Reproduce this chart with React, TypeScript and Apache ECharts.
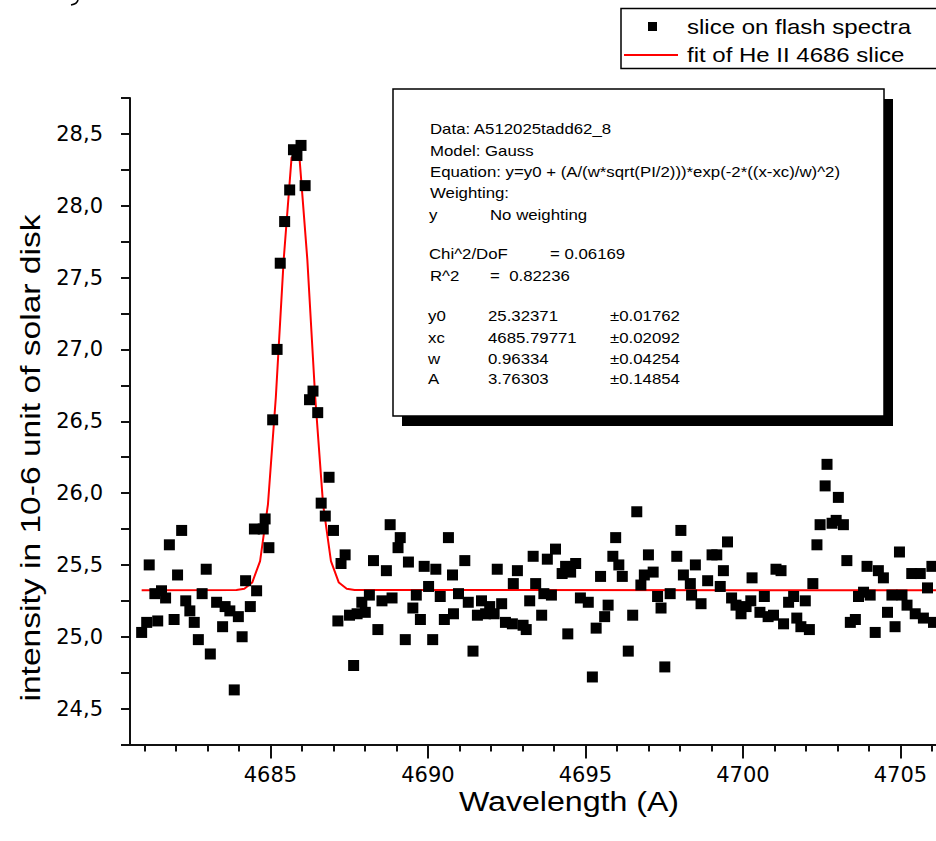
import React, { useEffect, useRef } from "react";
import * as echarts from "echarts";

// Measured data: "slice on flash spectra"
const sliceWavelength = [
  4680.91, 4681.07, 4681.15, 4681.33, 4681.42, 4681.54, 4681.67, 4681.79, 4681.94, 4682.05,
  4682.18, 4682.31, 4682.44, 4682.58, 4682.71, 4682.83, 4682.96, 4683.09, 4683.29, 4683.48,
  4683.56, 4683.71, 4683.85, 4683.98, 4684.10, 4684.21, 4684.36, 4684.49, 4684.56, 4684.77,
  4684.83, 4684.95, 4685.07, 4685.21, 4685.31, 4685.45, 4685.61, 4685.73, 4685.84, 4685.97,
  4686.10, 4686.24, 4686.35, 4686.50, 4686.61, 4686.74, 4686.86, 4687.00, 4687.14, 4687.24,
  4687.37, 4687.51, 4687.64, 4687.75, 4687.90, 4688.01, 4688.14, 4688.27, 4688.41, 4688.54,
  4688.68, 4688.80, 4688.86, 4689.05, 4689.12, 4689.28, 4689.38, 4689.52, 4689.63, 4689.76,
  4689.88, 4690.02, 4690.15, 4690.25, 4690.39, 4690.52, 4690.65, 4690.78, 4690.81, 4690.97,
  4691.17, 4691.28, 4691.43, 4691.57, 4691.70, 4691.83, 4691.96, 4692.10, 4692.20, 4692.34,
  4692.46, 4692.68, 4692.71, 4692.84, 4693.02, 4693.12, 4693.23, 4693.34, 4693.42, 4693.61,
  4693.68, 4693.79, 4693.92, 4694.05, 4694.26, 4694.37, 4694.44, 4694.53, 4694.69, 4694.84,
  4695.09, 4695.22, 4695.34, 4695.48, 4695.61, 4695.72, 4695.87, 4695.96, 4696.06, 4696.17,
  4696.36, 4696.50, 4696.63, 4696.76, 4696.87, 4697.00, 4697.15, 4697.29, 4697.40, 4697.52,
  4697.69, 4697.90, 4698.03, 4698.11, 4698.33, 4698.37, 4698.49, 4698.67, 4698.88, 4699.02,
  4699.17, 4699.28, 4699.38, 4699.51, 4699.64, 4699.78, 4699.94, 4700.10, 4700.25, 4700.29,
  4700.54, 4700.68, 4700.80, 4700.97, 4701.05, 4701.21, 4701.29, 4701.45, 4701.61, 4701.71,
  4701.84, 4701.98, 4702.11, 4702.22, 4702.35, 4702.45, 4702.61, 4702.67, 4702.83, 4702.96,
  4703.03, 4703.19, 4703.30, 4703.41, 4703.57, 4703.67, 4703.83, 4703.94, 4704.04, 4704.20,
  4704.30, 4704.46, 4704.59, 4704.73, 4704.83, 4704.97, 4705.05, 4705.21, 4705.36, 4705.47,
  4705.63, 4705.73, 4705.86, 4706.00, 4706.05,
];
const sliceIntensity = [
  25.03, 25.10, 25.50, 25.30, 25.11, 25.32, 25.27, 25.64, 25.12, 25.43,
  25.74, 25.25, 25.18, 25.10, 24.98, 25.30, 25.47, 24.88, 25.24, 25.07,
  25.21, 25.18, 24.63, 25.14, 25.00, 25.39, 25.21, 25.75, 25.32, 25.75,
  25.82, 25.62, 26.51, 27.00, 27.60, 27.89, 28.11, 28.39, 28.35, 28.42,
  28.14, 26.65, 26.71, 26.56, 25.93, 25.84, 26.11, 25.74, 25.11, 25.51,
  25.57, 25.15, 24.80, 25.16, 25.24, 25.17, 25.29, 25.53, 25.05, 25.25,
  25.46, 25.78, 25.27, 25.62, 25.69, 24.98, 25.52, 25.20, 25.29, 25.12,
  25.49, 25.35, 24.98, 25.47, 25.28, 25.12, 25.69, 25.43, 25.16, 25.30,
  25.53, 25.24, 24.90, 25.15, 25.25, 25.16, 25.21, 25.16, 25.47, 25.23,
  25.10, 25.09, 25.37, 25.46, 25.08, 25.05, 25.25, 25.56, 25.37, 25.15,
  25.30, 25.54, 25.29, 25.61, 25.44, 25.49, 25.02, 25.45, 25.51, 25.27,
  25.24, 24.72, 25.06, 25.42, 25.14, 25.22, 25.56, 25.69, 25.50, 25.42,
  24.90, 25.15, 25.87, 25.36, 25.43, 25.57, 25.45, 25.28, 25.20, 24.79,
  25.30, 25.56, 25.74, 25.43, 25.37, 25.29, 25.50, 25.23, 25.39, 25.57,
  25.57, 25.35, 25.46, 25.66, 25.27, 25.22, 25.16, 25.21, 25.25, 25.41,
  25.17, 25.28, 25.14, 25.15, 25.47, 25.46, 25.09, 25.24, 25.28, 25.13,
  25.07, 25.25, 25.05, 25.37, 25.64, 25.78, 26.05, 26.20, 25.79, 25.81,
  25.97, 25.78, 25.53, 25.10, 25.12, 25.28, 25.31, 25.49, 25.29, 25.03,
  25.46, 25.41, 25.17, 25.29, 25.07, 25.59, 25.29, 25.22, 25.44, 25.16,
  25.44, 25.13, 25.34, 25.49, 25.10,
];

// Fit curve "fit of He II 4686 slice"
const fitWavelength = [
  4680.91, 4683.92, 4684.17, 4684.42, 4684.67, 4684.92, 4685.17, 4685.42, 4685.67,
  4685.92, 4686.17, 4686.42, 4686.67, 4686.92, 4687.17, 4687.42, 4687.67, 4706.2,
];
const fitIntensity = [
  25.324, 25.325, 25.334, 25.377, 25.527, 25.922, 26.667, 27.626, 28.337,
  28.337, 27.626, 26.667, 25.922, 25.527, 25.377, 25.334, 25.325, 25.324,
];

// Axis ticks
const xMinorTicks = [
  4681, 4682, 4683, 4684, 4686, 4687, 4688, 4689, 4691, 4692, 4693,
  4694, 4696, 4697, 4698, 4699, 4701, 4702, 4703, 4704, 4706,
];
const xMajorTicks = [4685, 4690, 4695, 4700, 4705];
const yTicks = [
  24.25, 24.5, 24.75, 25.0, 25.25, 25.5, 25.75, 26.0, 26.25, 26.5, 26.75,
  27.0, 27.25, 27.5, 27.75, 28.0, 28.25, 28.5, 28.75,
];
const yLabels = [24.5, 25.0, 25.5, 26.0, 26.5, 27.0, 27.5, 28.0, 28.5];

// Fit report text
const reportHead = [
  "Data: A512025tadd62_8",
  "Model: Gauss",
  "Equation: y=y0 + (A/(w*sqrt(PI/2)))*exp(-2*((x-xc)/w)^2)",
  "Weighting:",
];
const paramNames = ["y0", "xc", "w", "A"];
const paramValues = ["25.32371", "4685.79771", "0.96334", "3.76303"];
const paramErrors = ["\u00b10.01762", "\u00b10.02092", "\u00b10.04254", "\u00b10.14854"];

const FONT = '"Liberation Sans", Arial, sans-serif';

function txt(text: string, x: number, y: number, size: number, sx: number, extra: any = {}) {
  return {
    type: "text",
    x,
    y,
    scaleX: sx,
    silent: true,
    z: 100,
    style: {
      text,
      font: `${size}px ${FONT}`,
      fill: "#000",
      textAlign: "left",
      align: "left",
      textVerticalAlign: "middle",
      verticalAlign: "middle",
      ...extra,
    },
  };
}

export default function App() {
  const ref = useRef<HTMLDivElement>(null);
  useEffect(() => {
    if (!ref.current) return;
    const chart = echarts.init(ref.current, null, { renderer: "svg" });
    const xMin = 4680.54;
    const xMax = 4706.13;
    const boxFont = 14;
    const boxSx = 1.2;
    const headY = [129.5, 151.5, 172.5, 193];
    const paramY = [316.5, 338.5, 359.5, 379.5];
    const graphic: any[] = [
      // cropped stroke fragment at the very top-left of the original figure
      {
        type: "bezierCurve",
        silent: true,
        shape: { x1: 78, y1: 0, cpx1: 77, cpy1: 4, x2: 71, y2: 5 },
        style: { stroke: "#000", lineWidth: 1.6, fill: "none" },
      },
      // report box shadow + box
      { type: "rect", z: 90, silent: true, shape: { x: 402, y: 99, width: 491, height: 327 }, style: { fill: "#000" } },
      { type: "rect", z: 91, silent: true, shape: { x: 393, y: 89, width: 491, height: 327 }, style: { fill: "#fff", stroke: "#000", lineWidth: 1.5 } },
      ...reportHead.map((t, i) => txt(t, 430, headY[i], boxFont, boxSx)),
      txt("y", 429, 215, boxFont, boxSx),
      txt("No weighting", 490, 215, boxFont, boxSx),
      txt("Chi^2/DoF", 429, 254.5, boxFont, boxSx),
      txt("= 0.06169", 550, 254.5, boxFont, boxSx),
      txt("R^2", 430, 276.5, boxFont, boxSx),
      txt("=  0.82236", 490, 276.5, boxFont, boxSx),
      ...paramNames.map((t, i) => txt(t, 428, paramY[i], boxFont, boxSx)),
      ...paramValues.map((t, i) => txt(t, 488, paramY[i], boxFont, boxSx)),
      ...paramErrors.map((t, i) => txt(t, 610, paramY[i], boxFont, boxSx)),
      // legend
      { type: "rect", z: 91, silent: true, shape: { x: 621, y: 8.5, width: 340, height: 60 }, style: { fill: "#fff", stroke: "#000", lineWidth: 1.5 } },
      { type: "rect", z: 100, silent: true, shape: { x: 648, y: 22, width: 9, height: 9 }, style: { fill: "#000" } },
      { type: "line", z: 100, silent: true, shape: { x1: 624, y1: 55, x2: 678, y2: 55 }, style: { stroke: "#ff0000", lineWidth: 2 } },
      txt("slice on flash spectra", 687, 27, 20, 1.2),
      txt("fit of He II 4686 slice", 687, 55, 20, 1.2),
      // axis titles
      txt("Wavelength (A)", 569, 801, 27, 1.19, { textAlign: "center", align: "center" }),
      {
        ...txt("intensity in 10-6 unit of solar disk", 30, 458, 28, 1.2, { textAlign: "center", align: "center" }),
        rotation: Math.PI / 2,
      },
    ];

    const axisLineStyle = { color: "#111", width: 2 };
    chart.setOption({
      animation: false,
      backgroundColor: "#fff",
      grid: { left: 130, right: 0, top: 98, bottom: 96.5, containLabel: false, outerBoundsMode: "none" },
      xAxis: [
        {
          type: "value",
          min: xMin,
          max: xMax,
          position: "bottom",
          axisLine: { show: true, onZero: false, lineStyle: axisLineStyle },
          axisTick: { show: true, inside: false, length: 14, customValues: xMajorTicks, lineStyle: { color: "#111", width: 2 } },
          axisLabel: {
            show: true,
            customValues: xMajorTicks,
            margin: 20,
            color: "#000",
            fontSize: 21,
            fontFamily: '"DejaVu Sans", sans-serif',
            formatter: (v: number) => String(Math.round(v)),
          },
          splitLine: { show: false },
        },
        {
          type: "value",
          min: xMin,
          max: xMax,
          position: "bottom",
          axisLine: { show: true, onZero: false, lineStyle: axisLineStyle },
          axisTick: { show: true, inside: false, length: 7, customValues: xMinorTicks, lineStyle: { color: "#111", width: 2 } },
          axisLabel: { show: false },
          splitLine: { show: false },
        },
      ],
      yAxis: {
        type: "value",
        min: 24.25,
        max: 28.75,
        interval: 0.25,
        axisLine: { show: true, onZero: false, lineStyle: axisLineStyle },
        axisTick: { show: true, inside: false, length: 9, customValues: yTicks, lineStyle: { color: "#111", width: 2 } },
        axisLabel: {
          show: true,
          customValues: yLabels,
          margin: 27,
          color: "#000",
          fontSize: 21,
          fontFamily: '"DejaVu Sans", sans-serif',
          formatter: (v: number) => v.toFixed(1).replace(".", ","),
        },
        splitLine: { show: false },
      },
      series: [
        {
          name: "fit of He II 4686 slice",
          type: "line",
          xAxisIndex: 0,
          data: fitWavelength.map((x, i) => [x, fitIntensity[i]]),
          symbol: "none",
          lineStyle: { color: "#ff0000", width: 2 },
          z: 3,
        },
        {
          name: "slice on flash spectra",
          type: "scatter",
          xAxisIndex: 0,
          data: sliceWavelength.map((x, i) => [x, sliceIntensity[i]]),
          symbol: "rect",
          symbolSize: 11,
          itemStyle: { color: "#000", opacity: 1 },
          z: 4,
        },
      ],
      graphic,
    });
    return () => chart.dispose();
  }, []);
  return (
    <div
      ref={ref}
      style={{ position: "absolute", left: 0, top: 0, width: 936, height: 841, background: "#fff" }}
    />
  );
}
